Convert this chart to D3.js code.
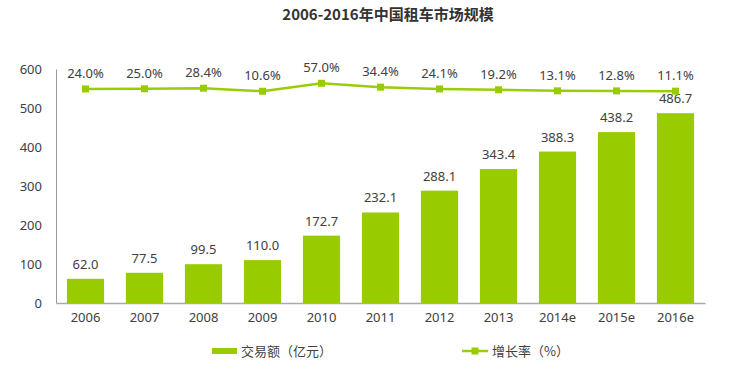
<!DOCTYPE html>
<html><head><meta charset="utf-8">
<script src="https://cdn.jsdelivr.net/npm/d3@7"></script>
<style>body{margin:0;background:#fff;}svg{display:block;}</style>
</head><body>
<svg id="c" width="753" height="375"></svg>
<script>
const categories = ["2006","2007","2008","2009","2010","2011","2012","2013","2014e","2015e","2016e"];
const amounts = [62.0,77.5,99.5,110.0,172.7,232.1,288.1,343.4,388.3,438.2,486.7];
const growth = [24.0,25.0,28.4,10.6,57.0,34.4,24.1,19.2,13.1,12.8,11.1];
const yTicks = [0,100,200,300,400,500,600];
const title = "2006-2016年中国租车市场规模";
const legendBar = "交易额（亿元）";
const legendLine = "增长率（%）";

const green = "#99CC00";
const lineGreen = "#9ACD07";
const textCol = "#404040";
const font = "'Noto Sans', 'Noto Sans CJK SC', sans-serif";

const svg = d3.select("#c");
const mLeft = 56, mRight = 705, mTop = 69, mBottom = 303;

const x = d3.scaleBand().domain(categories).range([mLeft, mRight]).paddingInner(0.37).paddingOuter(0.185);
const y = d3.scaleLinear().domain([0, 600]).range([mBottom, mTop]);
const y2 = d3.scaleLinear().domain([-1220, 140]).range([mBottom, mTop]);

svg.append("text").attr("x", 388).attr("y", 20).attr("text-anchor", "middle")
  .attr("font-family", "'Noto Sans CJK SC', sans-serif").attr("font-weight", "bold")
  .attr("font-size", 15).attr("fill", "#333").text(title);

// axes
const yAxis = svg.append("g").attr("transform", `translate(${mLeft},0)`)
  .call(d3.axisLeft(y).tickValues(yTicks).tickSize(0).tickPadding(14));
yAxis.select(".domain").attr("stroke", "#999").attr("stroke-width", 1);
yAxis.selectAll("text").attr("font-family", font).attr("font-size", 13).attr("fill", textCol);

const xAxis = svg.append("g").attr("transform", `translate(0,${mBottom})`)
  .call(d3.axisBottom(x).tickSize(0).tickPadding(10));
xAxis.select(".domain").attr("stroke", "#aaa").attr("stroke-width", 1.5);
xAxis.selectAll("text").attr("font-family", font).attr("font-size", 13).attr("fill", textCol);

// bars
svg.append("g").selectAll("rect").data(amounts).join("rect")
  .attr("x", (d, i) => x(categories[i]))
  .attr("width", x.bandwidth())
  .attr("y", d => y(d))
  .attr("height", d => mBottom - y(d))
  .attr("fill", green);

svg.append("g").selectAll("text").data(amounts).join("text")
  .attr("x", (d, i) => x(categories[i]) + x.bandwidth() / 2)
  .attr("y", d => y(d) - 10)
  .attr("text-anchor", "middle")
  .attr("font-family", font).attr("font-size", 13).attr("fill", textCol)
  .text(d => d.toFixed(1));

// line
const cx = i => x(categories[i]) + x.bandwidth() / 2;
const line = d3.line().x((d, i) => cx(i)).y(d => y2(d));
svg.append("path").datum(growth).attr("d", line)
  .attr("fill", "none").attr("stroke", lineGreen).attr("stroke-width", 2.5);
svg.append("g").selectAll("rect").data(growth).join("rect")
  .attr("x", (d, i) => cx(i) - 3.5).attr("y", d => y2(d) - 3.5)
  .attr("width", 7).attr("height", 7).attr("fill", green);
svg.append("g").selectAll("text").data(growth).join("text")
  .attr("x", (d, i) => cx(i))
  .attr("y", d => y2(d) - 11)
  .attr("text-anchor", "middle")
  .attr("font-family", font).attr("font-size", 13).attr("fill", textCol)
  .text(d => d.toFixed(1) + "%");

// legend
const lg = svg.append("g");
lg.append("rect").attr("x", 212).attr("y", 348).attr("width", 25).attr("height", 6).attr("fill", green);
lg.append("text").attr("x", 241).attr("y", 356).attr("font-family", "'Noto Sans CJK SC', sans-serif")
  .attr("font-size", 13).attr("fill", textCol).text(legendBar);
lg.append("line").attr("x1", 462).attr("x2", 488).attr("y1", 351).attr("y2", 351)
  .attr("stroke", lineGreen).attr("stroke-width", 2.5);
lg.append("rect").attr("x", 471.5).attr("y", 347.5).attr("width", 7).attr("height", 7).attr("fill", green);
lg.append("text").attr("x", 492).attr("y", 356).attr("font-family", "'Noto Sans CJK SC', sans-serif")
  .attr("font-size", 13).attr("fill", textCol).text(legendLine);
</script>
</body></html>
